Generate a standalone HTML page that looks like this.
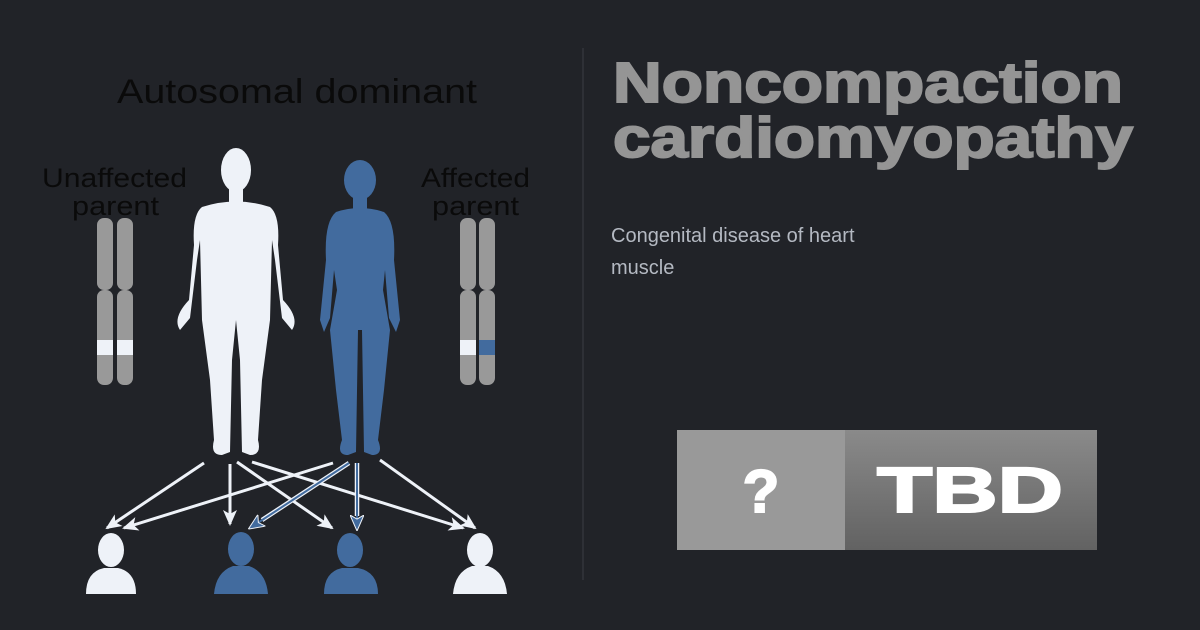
<!DOCTYPE html>
<html><head><style>
html,body{margin:0;padding:0;background:#212328;}
body{width:1200px;height:630px;position:relative;overflow:hidden;font-family:"Liberation Sans",sans-serif;}
</style></head><body>
<svg width="1200" height="630" viewBox="0 0 1200 630" style="position:absolute;left:0;top:0">
<defs>
<linearGradient id="g" x1="0" y1="0" x2="0" y2="1"><stop offset="0" stop-color="#8a8a8a"/><stop offset="1" stop-color="#626262"/></linearGradient>
<marker id="aw" markerWidth="16" markerHeight="14" refX="14" refY="7" orient="auto" markerUnits="userSpaceOnUse" viewBox="0 0 16 14"><path d="M0,0 L16,7 L0,14 L4,7 Z" fill="#eef2f8"/></marker>
<marker id="ab" markerWidth="16" markerHeight="14" refX="14" refY="7" orient="auto" markerUnits="userSpaceOnUse" viewBox="0 0 16 14"><path d="M0,0 L16,7 L0,14 L4,7 Z" fill="#426b9e" stroke="#eef2f8" stroke-width="1"/></marker>
</defs>
<line x1="583" y1="48" x2="583" y2="580" stroke="#3a3d43" stroke-width="1"/>
<text x="117" y="103" font-size="34" fill="#0a0a0a" textLength="360" lengthAdjust="spacingAndGlyphs">Autosomal dominant</text>
<text x="42" y="187" font-size="27" fill="#0a0a0a" textLength="145" lengthAdjust="spacingAndGlyphs">Unaffected</text>
<text x="72" y="215" font-size="27" fill="#0a0a0a" textLength="87" lengthAdjust="spacingAndGlyphs">parent</text>
<text x="421" y="187" font-size="27" fill="#0a0a0a" textLength="109" lengthAdjust="spacingAndGlyphs">Affected</text>
<text x="432" y="215" font-size="27" fill="#0a0a0a" textLength="87" lengthAdjust="spacingAndGlyphs">parent</text>
<!-- chromosomes -->
<g fill="#999">
<rect x="97" y="218" width="16" height="72" rx="7"/><rect x="97" y="290" width="16" height="95" rx="7"/>
<rect x="117" y="218" width="16" height="72" rx="7"/><rect x="117" y="290" width="16" height="95" rx="7"/>
<rect x="460" y="218" width="16" height="72" rx="7"/><rect x="460" y="290" width="16" height="95" rx="7"/>
<rect x="479" y="218" width="16" height="72" rx="7"/><rect x="479" y="290" width="16" height="95" rx="7"/>
</g>
<rect x="97" y="340" width="16" height="15" fill="#eef2f8"/><rect x="117" y="340" width="16" height="15" fill="#eef2f8"/>
<rect x="460" y="340" width="16" height="15" fill="#eef2f8"/><rect x="479" y="340" width="16" height="15" fill="#426b9e"/>
<!-- man -->
<g fill="#eef2f8">
<ellipse cx="236" cy="170" rx="15" ry="22"/>
<rect x="229" y="188" width="14" height="14"/>
<path d="M202,207 Q236,196 270,207 Q280,215 278,245 L283,300 Q300,318 292,330 L282,318 L275,260 L272,240 L270,320 L262,380 L258,440 Q262,455 250,455 L242,452 L240,360 L236,320 L232,360 L230,452 L222,455 Q210,455 214,440 L210,380 L202,320 L200,240 L197,260 L190,318 L180,330 Q172,318 189,300 L194,245 Q192,215 202,207 Z"/>
</g>
<!-- woman -->
<g fill="#426b9e">
<ellipse cx="360" cy="180" rx="16" ry="20"/>
<rect x="353" y="195" width="14" height="14"/>
<path d="M336,212 Q360,204 384,212 Q396,222 394,260 L400,320 L396,332 L389,318 L385,270 L383,290 L390,330 L384,390 L378,440 Q384,455 372,455 L364,452 L362,330 L358,330 L356,452 L348,455 Q336,455 342,440 L336,390 L330,330 L337,290 L334,270 L330,318 L324,332 L320,320 L326,260 Q324,222 336,212 Z"/>
</g>
<!-- arrows -->
<g stroke="#eef2f8" stroke-width="3" fill="none" marker-end="url(#aw)">
<line x1="204" y1="463" x2="107" y2="528"/>
<line x1="230" y1="464" x2="230" y2="524"/>
<line x1="237" y1="462" x2="332" y2="528"/>
<line x1="252" y1="462" x2="463" y2="528"/>
<line x1="333" y1="463" x2="124" y2="528"/>
<line x1="380" y1="460" x2="475" y2="528"/>
</g>
<g stroke="#eef2f8" stroke-width="4.5" fill="none">
<line x1="349" y1="463" x2="262" y2="520"/>
<line x1="357" y1="463" x2="357" y2="516"/>
</g>
<g stroke="#426b9e" stroke-width="2" fill="none" marker-end="url(#ab)">
<line x1="349" y1="463" x2="250" y2="528"/>
<line x1="357" y1="463" x2="357" y2="529"/>
</g>
<!-- children -->
<g fill="#eef2f8">
<ellipse cx="111" cy="550" rx="13" ry="17"/><path d="M86,594 Q86,572 104,568 L118,568 Q136,572 136,594 Z"/>
<ellipse cx="480" cy="550" rx="13" ry="17"/><path d="M453,594 Q455,572 472,566 L488,566 Q505,572 507,594 Z"/>
</g>
<g fill="#426b9e">
<ellipse cx="241" cy="549" rx="13" ry="17"/><path d="M214,594 Q216,572 233,566 L249,566 Q266,572 268,594 Z"/>
<ellipse cx="350" cy="550" rx="13" ry="17"/><path d="M324,594 Q324,572 342,568 L358,568 Q378,572 378,594 Z"/>
</g>
<!-- right panel -->
<g fill="#959595" stroke="#959595" stroke-width="2" font-weight="bold" font-size="57">
<text x="613" y="102" textLength="510" lengthAdjust="spacingAndGlyphs">Noncompaction</text>
<text x="613" y="157" textLength="520" lengthAdjust="spacingAndGlyphs">cardiomyopathy</text>
</g>
<text x="611" y="242" font-size="20" fill="#b4b9c2">Congenital disease of heart</text>
<text x="611" y="274" font-size="20" fill="#b4b9c2">muscle</text>
<rect x="677" y="430" width="168" height="120" fill="#999"/>
<rect x="845" y="430" width="252" height="120" fill="url(#g)"/>
<text x="761" y="512" font-size="60" font-weight="bold" fill="#fff" stroke="#fff" stroke-width="2" text-anchor="middle">?</text>
<text x="877" y="512" font-size="64" font-weight="bold" fill="#fff" stroke="#fff" stroke-width="2" textLength="186" lengthAdjust="spacingAndGlyphs">TBD</text>
</svg>
</body></html>
